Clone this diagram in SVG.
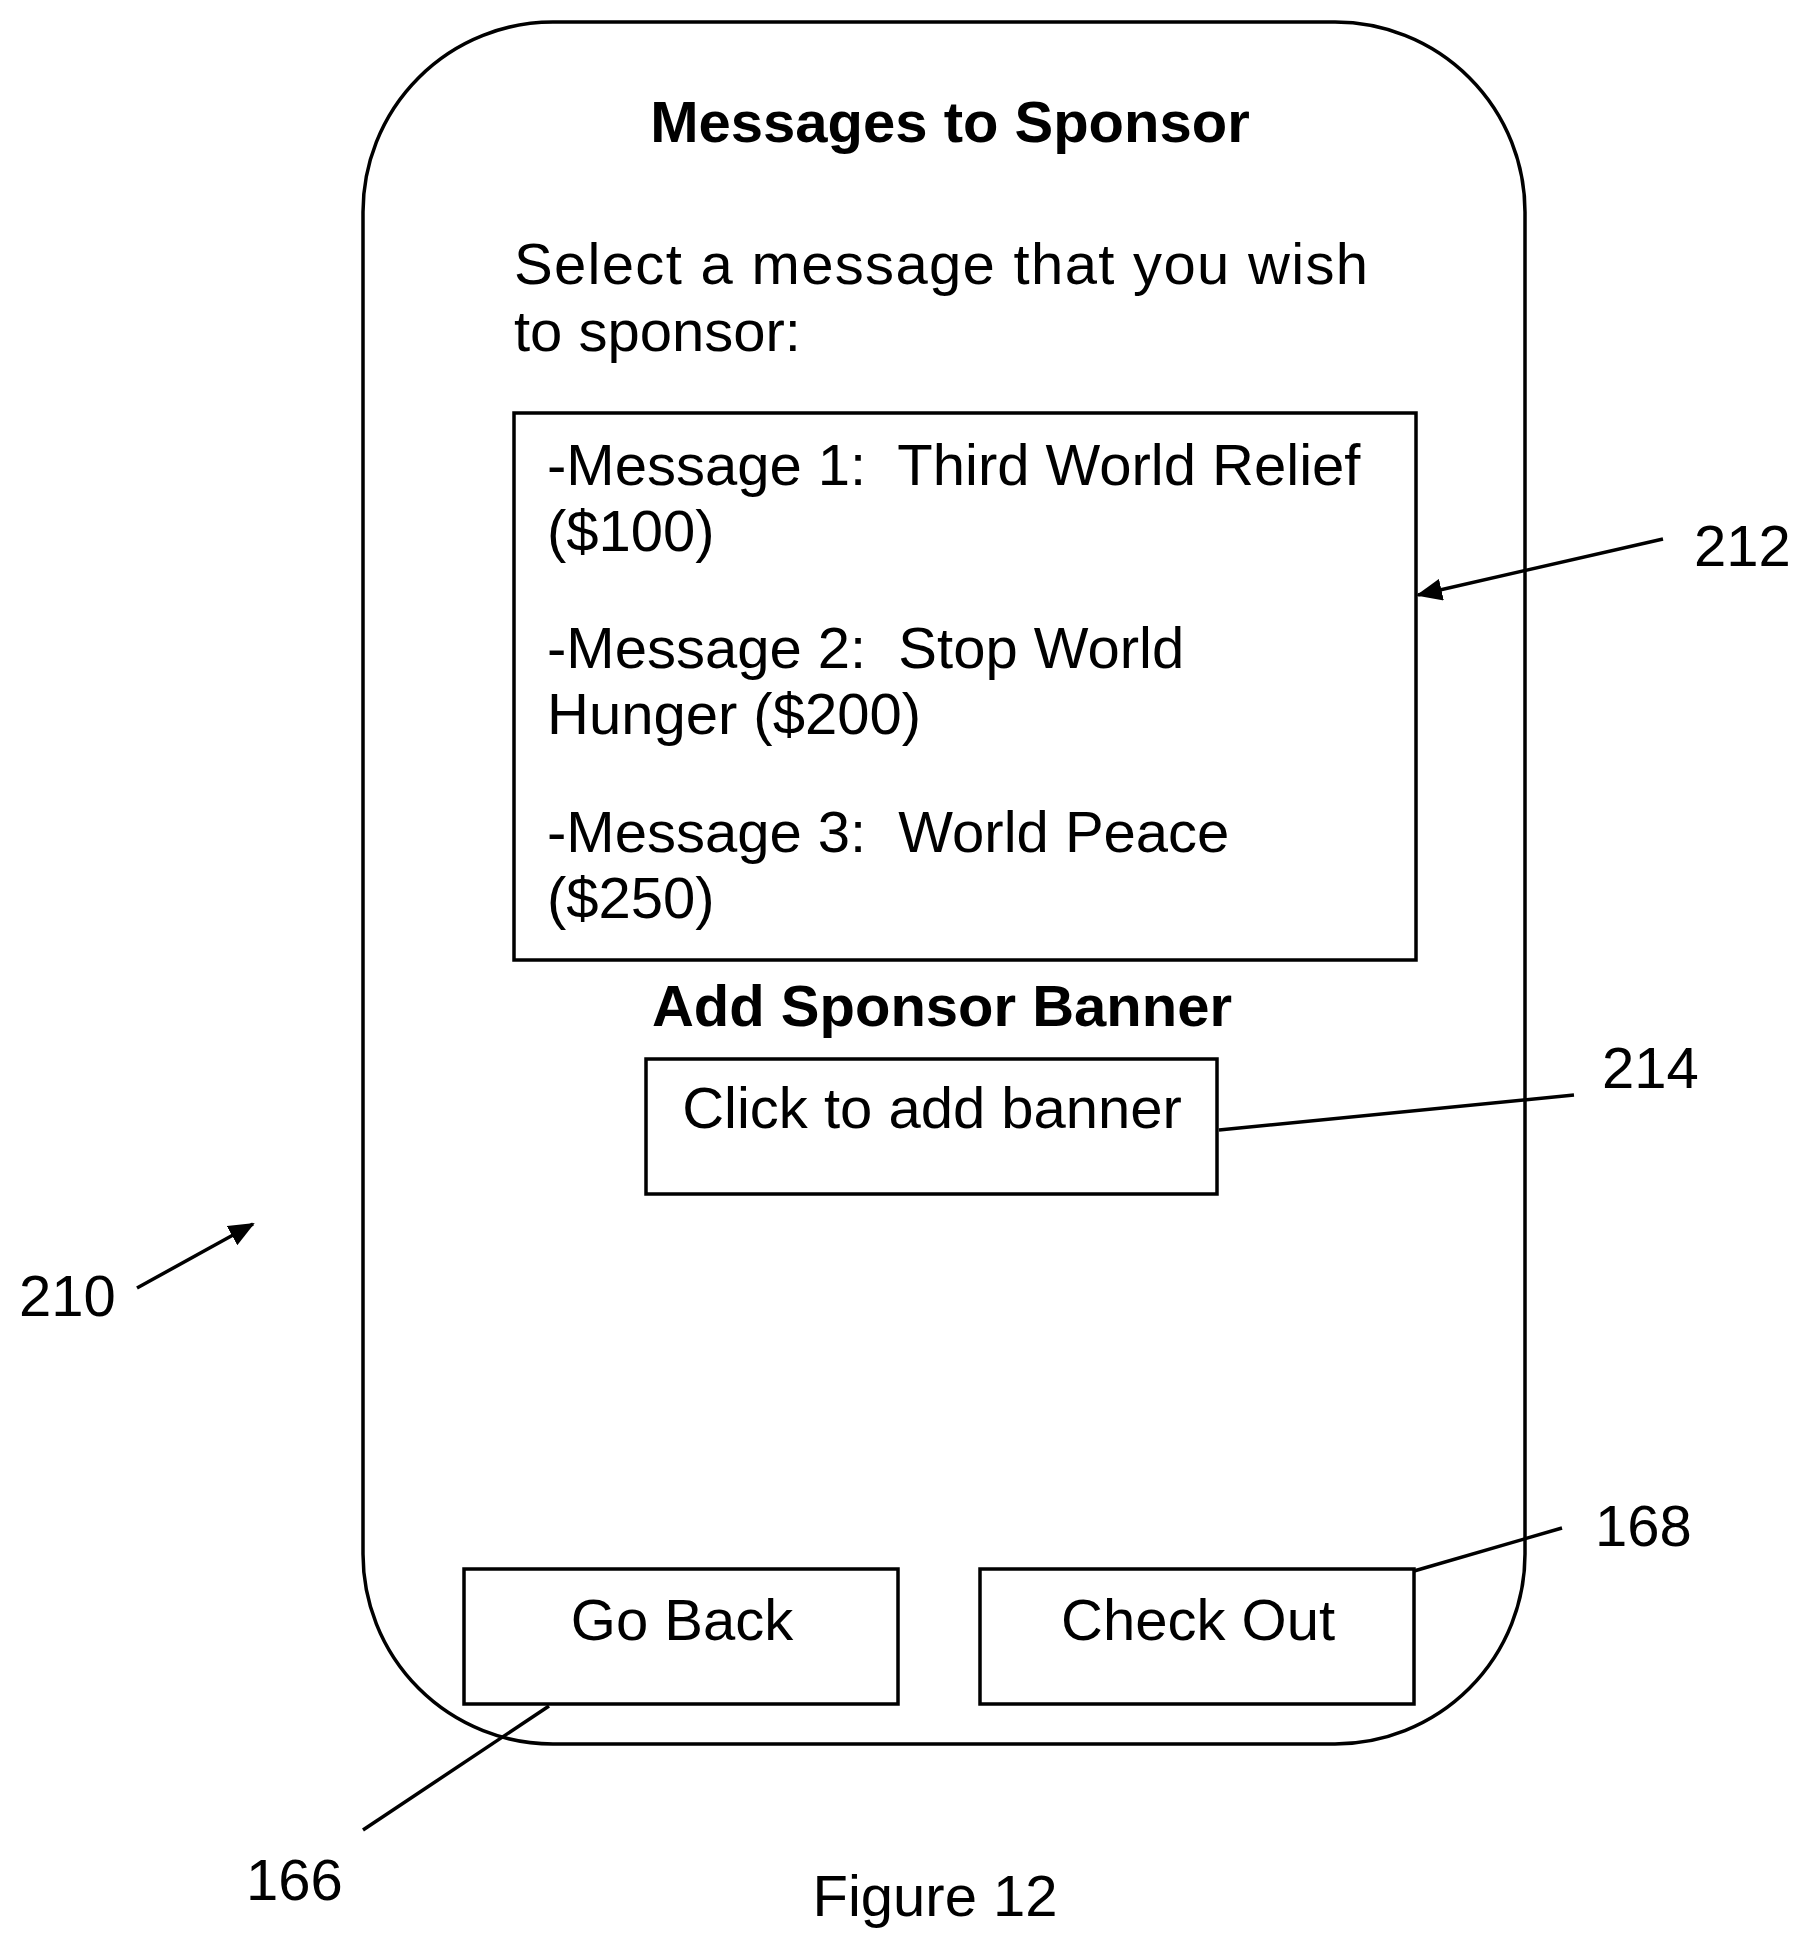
<svg xmlns="http://www.w3.org/2000/svg" width="1811" height="1953" viewBox="0 0 1811 1953">
<style>
text{font-family:"Liberation Sans",Arial,sans-serif;font-size:58px;fill:#000;white-space:pre}
.b{font-weight:bold}
.c{text-anchor:middle}
.s{fill:none;stroke:#000;stroke-width:3.5}
</style>
<defs><marker id="ah" markerWidth="26" markerHeight="22" refX="24" refY="11" orient="auto" markerUnits="userSpaceOnUse" viewBox="0 0 26 22"><path d="M0,0 L26,11 L0,22 Z"/></marker></defs>
<rect width="1811" height="1953" fill="#fff"/>
<g id="phone"><rect class="s" x="363" y="22" width="1162" height="1722" rx="190" ry="190"/>
<text class="b c" x="950" y="142">Messages to Sponsor</text>
<text x="514" y="284" textLength="854" lengthAdjust="spacing">Select a message that you wish</text>
<text x="514" y="351">to sponsor:</text></g>
<g id="msgbox"><rect class="s" x="514" y="413" width="902" height="547"/>
<text x="547" y="485" xml:space="preserve">-Message 1:  Third World Relief</text>
<text x="547" y="551">($100)</text>
<text x="547" y="668" xml:space="preserve">-Message 2:  Stop World</text>
<text x="547" y="734">Hunger ($200)</text>
<text x="547" y="852" xml:space="preserve">-Message 3:  World Peace</text>
<text x="547" y="918">($250)</text></g>
<g id="banner"><text class="b c" x="942" y="1026">Add Sponsor Banner</text>
<rect class="s" x="646" y="1059" width="571" height="135"/>
<text class="c" x="932" y="1128">Click to add banner</text></g>
<g id="goback"><rect class="s" x="464" y="1569" width="434" height="135"/><text class="c" x="682" y="1640">Go Back</text></g>
<g id="checkout"><rect class="s" x="980" y="1569" width="434" height="135"/><text class="c" x="1198" y="1640">Check Out</text></g>
<g id="labels"><text x="1694" y="566">212</text><text x="1602" y="1088">214</text><text x="19" y="1316">210</text><text x="1595" y="1546">168</text><text x="246" y="1900">166</text><text class="c" x="935" y="1916">Figure 12</text></g>
<g id="connectors" stroke="#000" stroke-width="3.5" fill="none">
<line x1="1663" y1="539" x2="1418" y2="595" marker-end="url(#ah)"/>
<line x1="1574" y1="1095" x2="1219" y2="1130"/>
<line x1="137" y1="1288" x2="253" y2="1224" marker-end="url(#ah)"/>
<line x1="1562" y1="1528" x2="1414" y2="1571"/>
<line x1="363" y1="1830" x2="549" y2="1706"/>
</g>
</svg>
